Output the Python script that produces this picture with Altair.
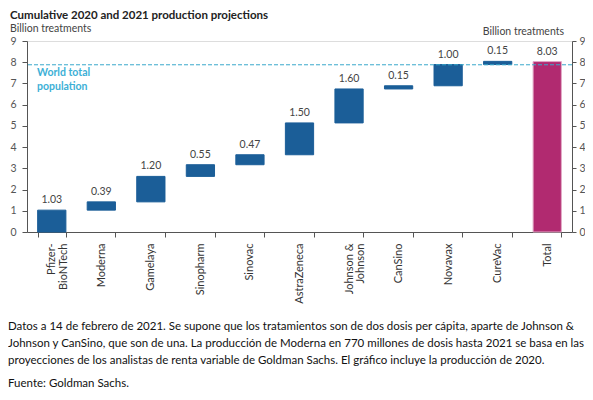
import altair as alt
import pandas as pd

categories = ["Pfizer-|BioNTech", "Moderna", "Gamelaya", "Sinopharm", "Sinovac",
              "AstraZeneca", "Johnson &|Johnson", "CanSino", "Novavax", "CureVac", "Total"]
increments = [1.03, 0.39, 1.20, 0.55, 0.47, 1.50, 1.60, 0.15, 1.00, 0.15]
total_value = 8.03
world_population = 7.88

title_text = "Cumulative 2020 and 2021 production projections"
unit_text = "Billion treatments"
pop_text = ["World total", "population"]
caption_lines = [
    "Datos a 14 de febrero de 2021. Se supone que los tratamientos son de dos dosis per cápita, aparte de Johnson &",
    "Johnson y CanSino, que son de una. La producción de Moderna en 770 millones de dosis hasta 2021 se basa en las",
    "proyecciones de los analistas de renta variable de Goldman Sachs. El gráfico incluye la producción de 2020.",
]
source_text = "Fuente: Goldman Sachs."

rows = []
cum = 0.0
for c, v in zip(categories[:-1], increments):
    rows.append({"cat": c, "start": cum, "end": cum + v, "label": f"{v:.2f}", "kind": "inc"})
    cum += v
rows.append({"cat": categories[-1], "start": 0.0, "end": total_value, "label": f"{total_value:.2f}", "kind": "total"})
df = pd.DataFrame(rows)

FONT = "Lato"
GRAY = "#555555"

xscale = alt.Scale(domain=categories, paddingInner=0.43, paddingOuter=0.215)
yscale = alt.Scale(domain=[0, 9], nice=False)

x_axis = alt.Axis(labelAngle=-90, labelAlign="right", labelBaseline="middle",
                  labelExpr="split(datum.label, '|')", labelFont=FONT,
                  labelFontSize=11, labelColor="#333333", labelPadding=6,
                  labelLineHeight=11.5, tickBand="extent", tickSize=5, tickColor=GRAY,
                  domainColor=GRAY, labelLimit=200, title=None)


def xenc():
    return alt.X("cat:N", scale=xscale, sort=categories, title=None, axis=x_axis)


left_axis = alt.Axis(values=list(range(10)), orient="left", labelFont=FONT,
                     labelFontSize=10.5, labelColor=GRAY, tickColor=GRAY,
                     domainColor=GRAY, tickSize=5, labelPadding=6, grid=False, title=None)
right_axis_def = alt.Axis(values=list(range(10)), orient="right", labelFont=FONT,
                          labelFontSize=10.5, labelColor=GRAY, tickColor=GRAY,
                          domainColor=GRAY, tickSize=4, labelPadding=3, grid=False, title=None)

bars = alt.Chart(df).mark_bar(strokeWidth=1).encode(
    x=xenc(),
    y=alt.Y("start:Q", scale=yscale, title=None, axis=left_axis),
    y2="end:Q",
    color=alt.Color("kind:N", scale=alt.Scale(domain=["inc", "total"], range=["#1b5e98", "#b12a70"]),
                    legend=None),
    stroke=alt.Stroke("kind:N", scale=alt.Scale(domain=["inc", "total"], range=["#1b5e98", "#e2a9c6"]),
                      legend=None),
)

labels = alt.Chart(df).mark_text(baseline="bottom", dy=-5, font=FONT, fontSize=10.5,
                                 color="#444444").encode(
    x=xenc(),
    y=alt.Y("end:Q", scale=yscale, title=None, axis=left_axis),
    text="label:N",
)

pop_df = pd.DataFrame({"y": [world_population]})
pop_rule = alt.Chart(pop_df).mark_rule(color="#3aa8cc", strokeDash=[4, 2], strokeWidth=1).encode(
    y=alt.Y("y:Q", scale=yscale, title=None, axis=left_axis)
)

pop_label = alt.Chart(pd.DataFrame({"t": ["\n".join(pop_text)]})).mark_text(
    align="left", baseline="top", font=FONT, fontSize=10.5, fontWeight="bold",
    color="#3cb0d6", lineBreak="\n", lineHeight=14
).encode(x=alt.value(10), y=alt.value(27), text="t:N")

title_mark = alt.Chart(pd.DataFrame({"t": [title_text]})).mark_text(
    align="left", baseline="middle", font=FONT, fontSize=11.5, fontWeight="bold", color="#222222"
).encode(x=alt.value(-17), y=alt.value(-25.5), text="t:N")

unit_left = alt.Chart(pd.DataFrame({"t": [unit_text]})).mark_text(
    align="left", baseline="middle", font=FONT, fontSize=10.5, color="#444444"
).encode(x=alt.value(-17), y=alt.value(-12.5), text="t:N")

unit_right = alt.Chart(pd.DataFrame({"t": [unit_text]})).mark_text(
    align="right", baseline="middle", font=FONT, fontSize=10.5, color="#444444"
).encode(x=alt.value(537), y=alt.value(-9), text="t:N")

CAPFONT = "Lato"
CAPSIZE = 11.5
cap_df = pd.DataFrame({"t": caption_lines, "i": list(range(len(caption_lines)))})
caption = alt.Chart(cap_df).mark_text(
    align="left", baseline="middle", font=CAPFONT, fontSize=CAPSIZE, color="#111111"
).encode(
    x=alt.value(-19),
    y=alt.Y("i:Q", scale=alt.Scale(domain=[0, 2], range=[286, 320]), axis=None),
    text="t:N",
)

source = alt.Chart(pd.DataFrame({"t": [source_text]})).mark_text(
    align="left", baseline="middle", font=CAPFONT, fontSize=CAPSIZE, color="#111111"
).encode(x=alt.value(-19), y=alt.value(343), text="t:N")

right_axis = alt.Chart(df).mark_bar(opacity=0).encode(
    x=xenc(),
    y=alt.Y("start:Q", scale=yscale, title=None, axis=right_axis_def),
    y2="end:Q",
)

main = alt.layer(bars, labels, pop_rule, pop_label, title_mark, unit_left, unit_right, source)
chart = alt.layer(main, right_axis, caption).resolve_scale(y="independent").properties(
    width=545, height=191,
    autosize=alt.AutoSizeParams(type="none"),
    padding={"left": 19, "top": 33, "right": 13, "bottom": 160},
).configure_view(stroke=None).configure(background="white")

chart.save("out.html", embed_options={"renderer": "svg", "actions": False})
